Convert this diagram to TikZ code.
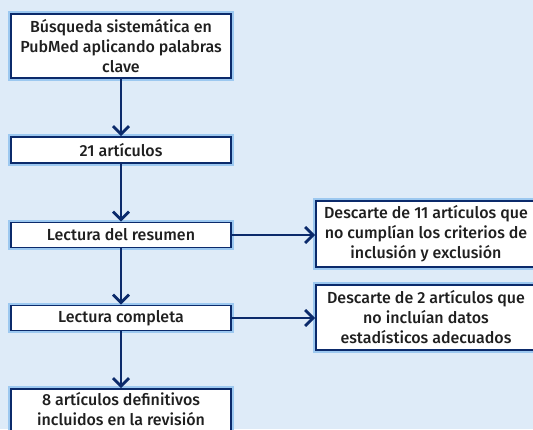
\documentclass[tikz,border=0pt]{standalone}
\usepackage{fontspec}
\setmainfont{Fira Sans}[UprightFont={* Medium}]
\usetikzlibrary{arrows.meta}
\definecolor{bgblue}{HTML}{DEEBF8}
\definecolor{navy}{HTML}{0B2A6B}
\definecolor{glow}{HTML}{9CC8F0}
\begin{document}
\begin{tikzpicture}[x=1pt,y=-1pt,
  box/.style={draw=navy, line width=1.8pt, fill=white, align=center, inner sep=0pt,
    font=\fontsize{16}{20}\selectfont, text=black!88,
    preaction={draw=glow, line width=5.5pt}},
  arr/.style={draw=navy, line width=2.8pt, -{Straight Barb[length=8pt,width=16pt,line width=2.8pt]}}]
\clip (0,0) rectangle (533,429);
\fill[bgblue] (0,0) rectangle (533,429);
\node[box, minimum width=220pt, minimum height=64pt] (b1) at (121,46) {Búsqueda sistemática en\\PubMed aplicando palabras\\clave};
\node[box, minimum width=220pt, minimum height=26pt] (b2) at (121,150) {21 artículos};
\node[box, minimum width=220pt, minimum height=25pt] (b3) at (121,235) {Lectura del resumen};
\node[box, minimum width=220pt, minimum height=25pt] (b4) at (121,318) {Lectura completa};
\node[box, minimum width=220pt, minimum height=60pt, anchor=north] (b5) at (121,388) {8 artículos definitivos\\incluidos en la revisión\\ };
\node[box, minimum width=220pt, minimum height=66pt] (r1) at (426,234) {Descarte de 11 artículos que\\no cumplían los criterios de\\inclusión y exclusión};
\node[box, minimum width=220pt, minimum height=65pt] (r2) at (426,317.5) {Descarte de 2 artículos que\\no incluían datos\\estadísticos adecuados};
\draw[arr] (b1) -- (b2);
\draw[arr] (b2) -- (b3);
\draw[arr] (b3) -- (b4);
\draw[arr] (b4) -- (b5);
\draw[arr] (b3.east) -- (b3.east -| r1.west);
\draw[arr] (b4.east) -- (b4.east -| r2.west);
\end{tikzpicture}
\end{document}
